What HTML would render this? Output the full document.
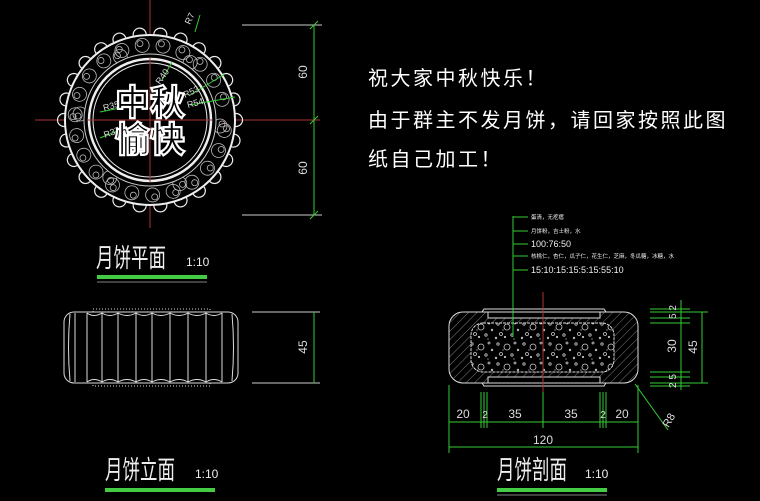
<!DOCTYPE html>
<html><head><meta charset="utf-8"><style>
html,body{margin:0;padding:0;background:#000;width:760px;height:501px;overflow:hidden}
svg{display:block}
.t{font-family:"Liberation Sans","Noto Sans CJK SC",sans-serif}
</style></head><body>
<svg width="760" height="501" viewBox="0 0 760 501" xmlns="http://www.w3.org/2000/svg" xmlns:xlink="http://www.w3.org/1999/xlink">
<defs>
<pattern id="h" width="6" height="6" patternUnits="userSpaceOnUse" patternTransform="rotate(45)"><line x1="0" y1="0" x2="0" y2="6" stroke="#999" stroke-width="0.8"/></pattern>
<pattern id="dp" width="26" height="20" patternUnits="userSpaceOnUse">
<rect width="26" height="20" fill="#000"/>
<g fill="none" stroke="#ccc" stroke-width="0.8">
<circle cx="4" cy="4" r="1.2"/><circle cx="13" cy="7" r="3"/><circle cx="21" cy="3" r="1"/>
<circle cx="7" cy="14" r="1.5"/><circle cx="18" cy="15" r="1.2"/><circle cx="24" cy="10" r="0.8"/>
<circle cx="2" cy="18" r="0.8"/><circle cx="11" cy="17" r="0.7"/>
</g>
<circle cx="9" cy="10" r="0.6" fill="#ccc"/><circle cx="20" cy="19" r="0.6" fill="#ccc"/>
</pattern>
<circle id="sc" cx="236" cy="120" r="6.5" fill="none" stroke="#eee" stroke-width="1.2"/>
<g id="sw" fill="none" stroke="#bbb" stroke-width="0.8"><circle cx="225" cy="120" r="7"/><circle cx="227" cy="118" r="3"/></g>
</defs>
<rect width="760" height="501" fill="#000"/>
<!-- plan view -->
<line x1="150" y1="0" x2="150" y2="228" stroke="#a33"/>
<line x1="35" y1="120" x2="320" y2="120" stroke="#a33"/>
<g>
<use xlink:href="#sc" href="#sc" transform="rotate(0 150 120)"/><use xlink:href="#sc" href="#sc" transform="rotate(13.85 150 120)"/><use xlink:href="#sc" href="#sc" transform="rotate(27.7 150 120)"/><use xlink:href="#sc" href="#sc" transform="rotate(41.5 150 120)"/><use xlink:href="#sc" href="#sc" transform="rotate(55.4 150 120)"/><use xlink:href="#sc" href="#sc" transform="rotate(69.2 150 120)"/><use xlink:href="#sc" href="#sc" transform="rotate(83.1 150 120)"/><use xlink:href="#sc" href="#sc" transform="rotate(96.9 150 120)"/><use xlink:href="#sc" href="#sc" transform="rotate(110.8 150 120)"/><use xlink:href="#sc" href="#sc" transform="rotate(124.6 150 120)"/><use xlink:href="#sc" href="#sc" transform="rotate(138.5 150 120)"/><use xlink:href="#sc" href="#sc" transform="rotate(152.3 150 120)"/><use xlink:href="#sc" href="#sc" transform="rotate(166.2 150 120)"/><use xlink:href="#sc" href="#sc" transform="rotate(180 150 120)"/><use xlink:href="#sc" href="#sc" transform="rotate(193.8 150 120)"/><use xlink:href="#sc" href="#sc" transform="rotate(207.7 150 120)"/><use xlink:href="#sc" href="#sc" transform="rotate(221.5 150 120)"/><use xlink:href="#sc" href="#sc" transform="rotate(235.4 150 120)"/><use xlink:href="#sc" href="#sc" transform="rotate(249.2 150 120)"/><use xlink:href="#sc" href="#sc" transform="rotate(263.1 150 120)"/><use xlink:href="#sc" href="#sc" transform="rotate(276.9 150 120)"/><use xlink:href="#sc" href="#sc" transform="rotate(290.8 150 120)"/><use xlink:href="#sc" href="#sc" transform="rotate(304.6 150 120)"/><use xlink:href="#sc" href="#sc" transform="rotate(318.5 150 120)"/><use xlink:href="#sc" href="#sc" transform="rotate(332.3 150 120)"/><use xlink:href="#sc" href="#sc" transform="rotate(346.2 150 120)"/>
</g>
<circle cx="150" cy="120" r="85" fill="#000" stroke="#eee" stroke-width="2"/>
<g>
<use xlink:href="#sw" href="#sw" transform="rotate(8 150 120)"/><use xlink:href="#sw" href="#sw" transform="rotate(24 150 120)"/><use xlink:href="#sw" href="#sw" transform="rotate(40 150 120)"/><use xlink:href="#sw" href="#sw" transform="rotate(56 150 120)"/><use xlink:href="#sw" href="#sw" transform="rotate(72 150 120)"/><use xlink:href="#sw" href="#sw" transform="rotate(88 150 120)"/><use xlink:href="#sw" href="#sw" transform="rotate(104 150 120)"/><use xlink:href="#sw" href="#sw" transform="rotate(120 150 120)"/><use xlink:href="#sw" href="#sw" transform="rotate(136 150 120)"/><use xlink:href="#sw" href="#sw" transform="rotate(152 150 120)"/><use xlink:href="#sw" href="#sw" transform="rotate(168 150 120)"/><use xlink:href="#sw" href="#sw" transform="rotate(184 150 120)"/><use xlink:href="#sw" href="#sw" transform="rotate(200 150 120)"/><use xlink:href="#sw" href="#sw" transform="rotate(216 150 120)"/><use xlink:href="#sw" href="#sw" transform="rotate(232 150 120)"/><use xlink:href="#sw" href="#sw" transform="rotate(248 150 120)"/><use xlink:href="#sw" href="#sw" transform="rotate(264 150 120)"/><use xlink:href="#sw" href="#sw" transform="rotate(280 150 120)"/><use xlink:href="#sw" href="#sw" transform="rotate(296 150 120)"/><use xlink:href="#sw" href="#sw" transform="rotate(312 150 120)"/><use xlink:href="#sw" href="#sw" transform="rotate(328 150 120)"/><use xlink:href="#sw" href="#sw" transform="rotate(344 150 120)"/>
<use xlink:href="#sw" href="#sw" transform="rotate(0 150 120) translate(-5 6)"/><use xlink:href="#sw" href="#sw" transform="rotate(60 150 120) translate(-5 6)"/><use xlink:href="#sw" href="#sw" transform="rotate(120 150 120) translate(-5 6)"/><use xlink:href="#sw" href="#sw" transform="rotate(180 150 120) translate(-5 6)"/><use xlink:href="#sw" href="#sw" transform="rotate(240 150 120) translate(-5 6)"/><use xlink:href="#sw" href="#sw" transform="rotate(300 150 120) translate(-5 6)"/>
</g>
<g fill="none" stroke="#eee">
<circle cx="150" cy="120" r="66" stroke="#ccc" fill="#000"/>
<circle cx="150" cy="120" r="61" stroke-width="2.5"/>
<circle cx="150" cy="120" r="57"/>
</g>
<line x1="150" y1="58" x2="150" y2="182" stroke="#a33"/>
<line x1="88" y1="120" x2="212" y2="120" stroke="#a33"/>
<g stroke="#3c3" stroke-width="1" fill="none">
<line x1="195" y1="32" x2="200" y2="15"/>
<line x1="162" y1="80" x2="172" y2="62"/>
<line x1="190" y1="95" x2="225" y2="74"/>
<line x1="190" y1="105" x2="235" y2="97"/>
<line x1="100" y1="112" x2="120" y2="108"/>
<line x1="100" y1="138" x2="120" y2="130"/>
</g>
<g class="t" fill="#ddd" font-size="9">
<text x="104" y="111" transform="rotate(-15 104 111)">R35</text>
<text x="105" y="138" transform="rotate(-20 105 138)">R37</text>
<text x="160" y="85" transform="rotate(-55 160 85)">R40</text>
<text x="185" y="98" transform="rotate(-25 185 98)">R53</text>
<text x="188" y="108" transform="rotate(-15 188 108)">R54</text>
<text x="190" y="25" transform="rotate(-65 190 25)">R7</text>
</g>
<g class="t" font-size="35" font-weight="bold" fill="#000" stroke="#fff" stroke-width="2.2" text-anchor="middle">
<text x="150" y="115">中秋</text>
<text x="150" y="152">愉快</text>
</g>
<!-- plan dims -->
<g stroke="#3c3" stroke-width="1">
<line x1="242" y1="25" x2="322" y2="25" stroke="#ccc"/>
<line x1="242" y1="215" x2="322" y2="215" stroke="#ccc"/>
<line x1="314" y1="25" x2="314" y2="215"/>
<line x1="310" y1="29" x2="318" y2="21"/><line x1="310" y1="124" x2="318" y2="116"/><line x1="310" y1="219" x2="318" y2="211"/>
</g>
<g class="t" fill="#ddd" font-size="12">
<text x="307" y="72" transform="rotate(-90 307 72)" text-anchor="middle">60</text>
<text x="307" y="168" transform="rotate(-90 307 168)" text-anchor="middle">60</text>
<text x="307" y="347" transform="rotate(-90 307 347)" text-anchor="middle">45</text>
</g>
<g class="t" fill="#eee">
<text x="96" y="267" font-size="26" textLength="70" lengthAdjust="spacingAndGlyphs">月饼平面</text><text x="186" y="266" font-size="12">1:10</text>
<text x="105" y="479" font-size="26" textLength="70" lengthAdjust="spacingAndGlyphs">月饼立面</text><text x="195" y="478" font-size="12">1:10</text>
<text x="497" y="479" font-size="26" textLength="70" lengthAdjust="spacingAndGlyphs">月饼剖面</text><text x="585" y="478" font-size="12">1:10</text>
</g>
<g fill="#4c4">
<rect x="97" y="275" width="110" height="4"/>
<rect x="105" y="488" width="110" height="4"/>
<rect x="497" y="488" width="110" height="4"/>
</g>
<g stroke="#aaa" stroke-width="0.8"><line x1="97" y1="282" x2="207" y2="282"/><line x1="497" y1="495" x2="607" y2="495"/></g>
<!-- elevation -->
<g fill="none" stroke="#ddd" stroke-width="1">
<rect x="64" y="312" width="174" height="71" rx="10"/>
<path d="M70 314 Q67 347 70 381 M75 313 V382 M87 313 V382 M102 313 V382 M118 313 V382 M136 313 V382 M152 313 V382 M170 313 V382 M188 313 V382 M206 313 V382 M222 313 V382 M232 314 Q235 347 232 381"/>
<path d="M87 313 Q94 318 102 313 Q110 318 118 313 Q127 318 136 313 Q144 318 152 313 Q161 318 170 313 Q179 318 188 313 Q197 318 206 313 Q214 318 222 313 M87 382 Q94 377 102 382 Q110 377 118 382 Q127 377 136 382 Q144 377 152 382 Q161 377 170 382 Q179 377 188 382 Q197 377 206 382 Q214 377 222 382"/>
<rect x="93" y="309" width="117" height="3" stroke-dasharray="1 2"/>
<rect x="93" y="383" width="117" height="3" stroke-dasharray="1 2"/>
</g>
<g stroke="#ccc" stroke-width="1">
<line x1="252" y1="312" x2="320" y2="312"/><line x1="252" y1="383" x2="320" y2="383"/>
<line x1="314" y1="312" x2="314" y2="383" stroke="#3c3"/>
</g>
<!-- text -->
<g class="t" fill="#fff" font-size="20" letter-spacing="2.5">
<text x="368" y="85">祝大家中秋快乐！</text>
<text x="368" y="127">由于群主不发月饼，请回家按照此图</text>
<text x="368" y="166">纸自己加工！</text>
</g>
<!-- section -->
<g fill="none" stroke="#ddd" stroke-width="1">
<rect x="449" y="312" width="189" height="71" rx="14" fill="url(#h)"/>
<path d="M482 312 L484 309 L604 309 L606 312 M482 383 L484 386 L604 386 L606 383"/>
<rect x="488" y="312" width="112" height="6" fill="#000"/>
<rect x="488" y="377" width="112" height="6" fill="#000"/>
<rect x="471" y="323" width="143" height="49" rx="12" fill="url(#dp)" stroke-dasharray="3 1"/>
</g>
<line x1="543" y1="292" x2="543" y2="392" stroke="#a33"/>
<g stroke="#3c3" stroke-width="1">
<line x1="513" y1="216" x2="513" y2="337"/>
<line x1="513" y1="217" x2="528" y2="217"/><line x1="513" y1="231" x2="528" y2="231"/><line x1="513" y1="244" x2="528" y2="244"/><line x1="513" y1="256" x2="528" y2="256"/><line x1="513" y1="270" x2="528" y2="270"/>
<line x1="449" y1="385" x2="449" y2="453"/><line x1="638" y1="385" x2="638" y2="453"/>
<line x1="481" y1="392" x2="481" y2="428"/><line x1="484" y1="392" x2="484" y2="428"/><line x1="487" y1="392" x2="487" y2="428"/>
<line x1="600" y1="392" x2="600" y2="428"/><line x1="603" y1="392" x2="603" y2="428"/><line x1="606" y1="392" x2="606" y2="428"/>
<line x1="543" y1="392" x2="543" y2="428"/>
<line x1="449" y1="422" x2="638" y2="422"/>
<line x1="449" y1="447" x2="638" y2="447"/>
<line x1="650" y1="312" x2="708" y2="312"/><line x1="650" y1="383" x2="708" y2="383"/>
<line x1="650" y1="309" x2="690" y2="309"/><line x1="650" y1="318" x2="690" y2="318"/><line x1="650" y1="323" x2="690" y2="323"/>
<line x1="650" y1="372" x2="690" y2="372"/><line x1="650" y1="377" x2="690" y2="377"/><line x1="650" y1="386" x2="690" y2="386"/>
<line x1="681" y1="300" x2="681" y2="390"/>
<line x1="702" y1="312" x2="702" y2="383"/>
<line x1="635" y1="384" x2="668" y2="430"/>
</g>
<g class="t" fill="#eee" font-size="5.5">
<text x="531" y="219">蛋清，无疙瘩</text>
<text x="531" y="233">月饼粉，吉士粉，水</text>
<text x="531" y="247" font-size="9">100:76:50</text>
<text x="531" y="258">核桃仁，杏仁，瓜子仁，花生仁，芝麻，冬瓜糖，冰糖，水</text>
<text x="531" y="273" font-size="9">15:10:15:15:5:15:55:10</text>
</g>
<g class="t" fill="#ddd" font-size="12" text-anchor="middle">
<text x="463" y="418">20</text><text x="515" y="418">35</text><text x="571" y="418">35</text><text x="622" y="418">20</text>
<text x="485" y="418" font-size="10">2</text><text x="603" y="418" font-size="10">2</text>
<text x="543" y="444">120</text>
<text x="676" y="346" transform="rotate(-90 676 346)">30</text>
<text x="697" y="347" transform="rotate(-90 697 347)">45</text>
<text x="676" y="312" transform="rotate(-90 676 312)" font-size="10">5 2</text>
<text x="676" y="381" transform="rotate(-90 676 381)" font-size="10">2 5</text>
<text x="672" y="422" transform="rotate(-60 672 422)" font-size="11">R8</text>
</g>
</svg>
</body></html>
